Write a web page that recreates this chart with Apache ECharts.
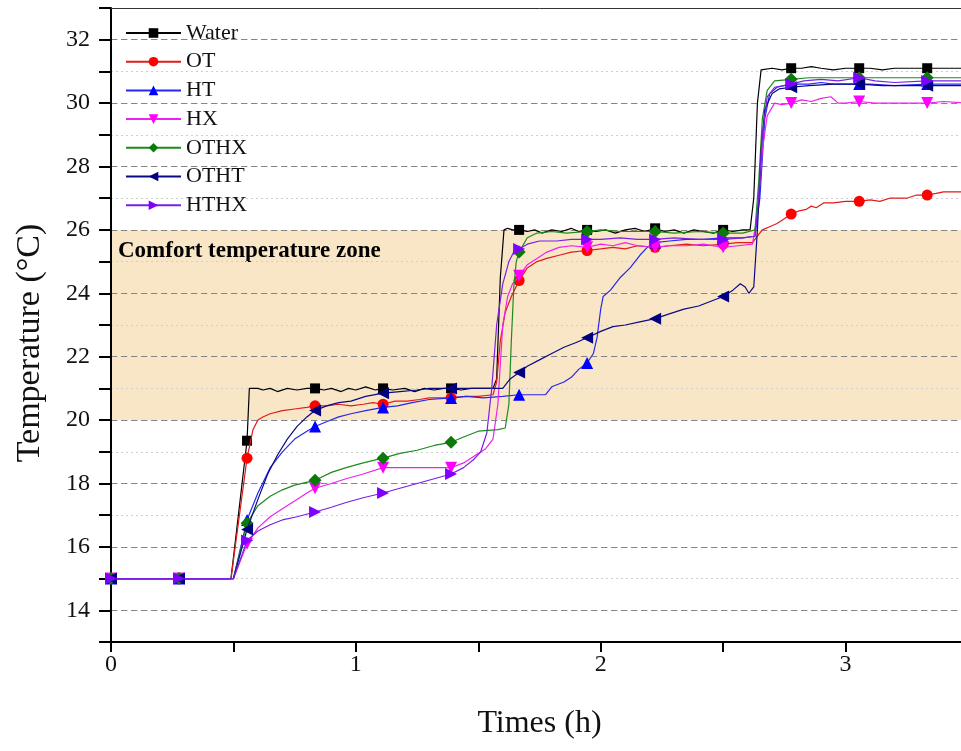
<!DOCTYPE html>
<html>
<head>
<meta charset="utf-8">
<script src="https://cdn.jsdelivr.net/npm/echarts@6/dist/echarts.min.js"></script>
<style>
  html, body { margin: 0; padding: 0; background: #fff; overflow: hidden; width: 961px; height: 751px; }
  /* the plot runs on past the right edge of the page, up to 3.5 h */
  #chart { width: 971px; height: 751px; }
</style>
</head>
<body>
<div id="chart"></div>
<script>
// Sample times (h) where each curve carries a marker (every 1000 s)
const markerHours = [0, 0.2778, 0.5556, 0.8333, 1.1111, 1.3889, 1.6667, 1.9444, 2.2222, 2.5, 2.7778, 3.0556, 3.3333];

// Comfort band (°C)
const comfortZone = [20, 26];

// Axis tick labels
const xTickLabels = [0, 1, 2, 3];
const yTickLabels = [14, 16, 18, 20, 22, 24, 26, 28, 30, 32];

// Temperature histories: [time (h), temperature (°C)]
const water = [[0,15],[0.2778,15],[0.49,15],[0.5556,19.35],[0.565,21.0],[0.6,21.0],[0.62,20.95],[0.65,21.0],[0.68,20.9],[0.72,21.0],[0.76,20.95],[0.8,21.0],[0.8333,21.0],[0.87,20.95],[0.9,21.0],[0.94,20.9],[0.97,21.0],[1.0,20.95],[1.04,21.05],[1.08,20.95],[1.1111,21.0],[1.15,20.95],[1.2,21.0],[1.24,20.9],[1.28,21.0],[1.32,20.95],[1.36,21.0],[1.3889,21.0],[1.43,20.95],[1.47,21.0],[1.51,21.0],[1.56,21.0],[1.575,21.3],[1.59,24.5],[1.605,26.0],[1.62,26.05],[1.64,26.0],[1.6667,26.0],[1.7,25.95],[1.73,26.0],[1.76,25.9],[1.8,26.0],[1.84,25.95],[1.88,26.05],[1.91,25.95],[1.9444,26.0],[1.98,25.95],[2.02,26.0],[2.06,25.9],[2.1,26.0],[2.14,26.05],[2.18,25.95],[2.2222,26.05],[2.26,25.95],[2.3,26.0],[2.34,25.9],[2.38,26.0],[2.42,25.95],[2.46,25.9],[2.5,26.0],[2.54,25.95],[2.58,26.0],[2.61,26.0],[2.625,27.0],[2.64,30.0],[2.655,31.05],[2.7,31.1],[2.74,31.05],[2.7778,31.1],[2.82,31.1],[2.86,31.15],[2.9,31.1],[2.95,31.05],[3.0,31.1],[3.0556,31.1],[3.1,31.1],[3.15,31.05],[3.2,31.1],[3.25,31.1],[3.3333,31.1],[3.4,31.1],[3.5,31.1]];

const ot = [[0,15],[0.2778,15],[0.49,15],[0.5556,18.8],[0.58,19.7],[0.6,20.0],[0.62,20.1],[0.65,20.2],[0.7,20.3],[0.75,20.35],[0.8,20.4],[0.8333,20.45],[0.88,20.45],[0.93,20.5],[0.98,20.45],[1.03,20.5],[1.07,20.55],[1.1111,20.5],[1.16,20.6],[1.21,20.6],[1.26,20.65],[1.3,20.7],[1.3889,20.7],[1.45,20.75],[1.5,20.75],[1.56,20.8],[1.575,21.2],[1.59,22.5],[1.61,23.4],[1.635,23.9],[1.6667,24.4],[1.7,24.8],[1.74,25.0],[1.78,25.1],[1.83,25.2],[1.88,25.3],[1.9444,25.35],[2.0,25.4],[2.05,25.45],[2.1,25.4],[2.15,25.5],[2.2222,25.45],[2.28,25.5],[2.35,25.55],[2.42,25.5],[2.5,25.55],[2.56,25.6],[2.62,25.6],[2.64,25.8],[2.66,26.0],[2.69,26.1],[2.72,26.2],[2.75,26.35],[2.7778,26.5],[2.81,26.6],[2.84,26.65],[2.86,26.75],[2.88,26.7],[2.91,26.85],[2.95,26.85],[3.0,26.9],[3.0556,26.9],[3.1,26.95],[3.14,26.9],[3.18,27.0],[3.25,27.0],[3.29,27.1],[3.3333,27.1],[3.37,27.15],[3.4,27.2],[3.5,27.2]];

const ht = [[0,15],[0.2778,15],[0.5,15],[0.5556,16.85],[0.6,17.7],[0.65,18.5],[0.7,19.0],[0.75,19.4],[0.8,19.65],[0.8333,19.8],[0.88,19.95],[0.93,20.1],[0.98,20.2],[1.04,20.3],[1.1111,20.4],[1.17,20.45],[1.23,20.55],[1.3,20.65],[1.3889,20.7],[1.45,20.75],[1.52,20.7],[1.6,20.75],[1.6667,20.8],[1.72,20.8],[1.775,20.8],[1.8,21.05],[1.85,21.2],[1.88,21.35],[1.91,21.6],[1.9444,21.8],[1.97,22.1],[1.985,22.6],[2.0,23.5],[2.01,23.9],[2.04,24.1],[2.08,24.5],[2.12,24.8],[2.16,25.2],[2.19,25.45],[2.2222,25.6],[2.28,25.65],[2.35,25.7],[2.42,25.7],[2.5,25.75],[2.58,25.75],[2.63,25.8],[2.65,27.0],[2.67,29.5],[2.69,30.3],[2.72,30.5],[2.7778,30.6],[2.85,30.6],[2.9,30.65],[2.95,30.6],[3.0556,30.6],[3.1,30.6],[3.2,30.55],[3.3333,30.6],[3.5,30.6]];

const hx = [[0,15],[0.2778,15],[0.5,15],[0.5556,16.1],[0.6,16.6],[0.65,16.95],[0.7,17.2],[0.75,17.45],[0.8,17.7],[0.8333,17.85],[0.9,18.0],[0.96,18.15],[1.03,18.3],[1.1111,18.5],[1.18,18.5],[1.25,18.5],[1.32,18.5],[1.3889,18.5],[1.44,18.65],[1.49,18.9],[1.53,19.1],[1.56,19.4],[1.58,20.5],[1.6,23.0],[1.62,23.9],[1.64,24.3],[1.6667,24.55],[1.7,24.9],[1.74,25.1],[1.78,25.3],[1.83,25.45],[1.88,25.5],[1.9444,25.45],[2.0,25.55],[2.05,25.5],[2.1,25.6],[2.15,25.5],[2.2222,25.45],[2.28,25.5],[2.35,25.5],[2.42,25.55],[2.5,25.45],[2.56,25.5],[2.62,25.55],[2.64,26.5],[2.66,28.5],[2.68,29.6],[2.71,30.0],[2.74,29.95],[2.7778,30.0],[2.82,30.1],[2.86,30.05],[2.9,30.15],[2.94,30.2],[2.97,30.0],[3.0,30.0],[3.0556,30.05],[3.12,30.0],[3.2,30.0],[3.3333,30.0],[3.4,30.05],[3.5,30.0]];

const othx = [[0,15],[0.2778,15],[0.5,15],[0.5556,16.75],[0.6,17.3],[0.65,17.6],[0.7,17.8],[0.75,17.95],[0.8333,18.1],[0.9,18.35],[0.96,18.5],[1.03,18.65],[1.1111,18.8],[1.18,18.95],[1.25,19.05],[1.32,19.2],[1.3889,19.3],[1.45,19.5],[1.5,19.65],[1.58,19.7],[1.61,19.75],[1.625,20.5],[1.635,22.5],[1.645,24.2],[1.655,25.0],[1.6667,25.3],[1.7,25.75],[1.74,25.9],[1.8,25.95],[1.86,25.9],[1.9444,25.95],[2.0,26.0],[2.08,25.95],[2.15,25.95],[2.2222,25.95],[2.3,25.9],[2.4,25.95],[2.5,25.9],[2.58,25.9],[2.63,26.0],[2.645,27.5],[2.66,29.5],[2.68,30.4],[2.71,30.7],[2.7778,30.75],[2.85,30.8],[2.95,30.8],[3.0556,30.8],[3.15,30.8],[3.25,30.8],[3.3333,30.8],[3.5,30.8]];

const otht = [[0,15],[0.2778,15],[0.5,15],[0.5556,16.55],[0.6,17.5],[0.64,18.3],[0.68,18.9],[0.72,19.4],[0.76,19.8],[0.8,20.1],[0.8333,20.3],[0.88,20.45],[0.93,20.55],[0.98,20.6],[1.04,20.75],[1.1111,20.85],[1.18,20.9],[1.25,20.95],[1.3,21.0],[1.3889,21.0],[1.45,21.0],[1.52,21.0],[1.6,21.0],[1.63,21.3],[1.6667,21.5],[1.7,21.7],[1.75,21.9],[1.8,22.1],[1.85,22.3],[1.9,22.45],[1.9444,22.6],[2.0,22.8],[2.05,22.95],[2.1,23.0],[2.16,23.1],[2.2222,23.2],[2.28,23.35],[2.34,23.5],[2.4,23.6],[2.45,23.75],[2.5,23.9],[2.54,24.1],[2.57,24.3],[2.59,24.2],[2.605,24.0],[2.625,24.2],[2.64,26.0],[2.655,28.5],[2.67,29.8],[2.7,30.3],[2.73,30.45],[2.7778,30.5],[2.85,30.55],[2.95,30.6],[3.0556,30.6],[3.15,30.55],[3.25,30.55],[3.3333,30.55],[3.5,30.55]];

const hthx = [[0,15],[0.2778,15],[0.5,15],[0.5556,16.2],[0.6,16.5],[0.65,16.7],[0.7,16.85],[0.76,16.95],[0.8333,17.1],[0.9,17.25],[0.96,17.4],[1.03,17.55],[1.1111,17.7],[1.18,17.85],[1.25,18.0],[1.32,18.15],[1.3889,18.3],[1.44,18.5],[1.48,18.75],[1.51,19.0],[1.535,19.6],[1.555,21.0],[1.575,23.0],[1.6,24.3],[1.625,25.0],[1.645,25.3],[1.6667,25.4],[1.7,25.55],[1.75,25.65],[1.82,25.65],[1.88,25.7],[1.9444,25.7],[2.0,25.7],[2.08,25.75],[2.15,25.7],[2.2222,25.7],[2.3,25.75],[2.4,25.7],[2.5,25.7],[2.58,25.75],[2.63,25.8],[2.645,27.0],[2.66,29.0],[2.68,30.2],[2.71,30.5],[2.7778,30.6],[2.83,30.7],[2.9,30.75],[2.97,30.7],[3.0556,30.8],[3.12,30.7],[3.2,30.65],[3.3333,30.7],[3.5,30.7]];

const FONT = '"Liberation Serif", "Times New Roman", serif';

// Only the sampled marker instants get a symbol; the rest of the trace is plain line.
function toData(points) {
  return points.map(([t, v]) =>
    markerHours.some(m => Math.abs(m - t) < 1e-3) ? [t, v] : { value: [t, v], symbol: 'none' }
  );
}

const seriesDefs = [
  { name: 'Water', data: water, line: '#000000', mark: '#000000', symbol: 'rect', size: 10, rotate: 0 },
  { name: 'OT',    data: ot,    line: '#e31a1a', mark: '#ff0000', symbol: 'circle', size: 11, rotate: 0 },
  { name: 'HT',    data: ht,    line: '#2626f0', mark: '#0000ff', symbol: 'triangle', size: 12, rotate: 0 },
  { name: 'HX',    data: hx,    line: '#ee22ee', mark: '#ff00ff', symbol: 'triangle', size: 12, rotate: 180 },
  { name: 'OTHX',  data: othx,  line: '#1d8a1d', mark: '#0b7a0b', symbol: 'diamond', size: 13, rotate: 0 },
  { name: 'OTHT',  data: otht,  line: '#0a0a84', mark: '#000080', symbol: 'triangle', size: 12, rotate: 90 },
  { name: 'HTHX',  data: hthx,  line: '#7a1fe6', mark: '#7f00ff', symbol: 'triangle', size: 12, rotate: -90 }
];

const series = seriesDefs.map((d, i) => {
  const s = {
    name: d.name,
    type: 'line',
    xAxisIndex: 0,
    yAxisIndex: 0,
    data: toData(d.data),
    symbol: d.symbol,
    symbolSize: d.size,
    symbolRotate: d.rotate,
    showSymbol: true,
    showAllSymbol: true,
    lineStyle: { color: d.line, width: 1.2 },
    itemStyle: { color: d.mark },
    emphasis: { disabled: true },
    animation: false,
    z: 3 + i
  };
  if (i === 0) {
    s.markArea = {
      silent: true,
      z: -1,
      itemStyle: { color: '#f9e6c7' },
      label: {
        show: true,
        position: 'insideTopLeft',
        offset: [2, 5],
        formatter: 'Comfort temperature zone',
        fontFamily: FONT,
        fontWeight: 'bold',
        fontSize: 23,
        color: '#000'
      },
      data: [[{ yAxis: comfortZone[0] }, { yAxis: comfortZone[1] }]]
    };
  }
  return s;
});

const chart = echarts.init(document.getElementById('chart'), null, { renderer: 'canvas' });

chart.setOption({
  animation: false,
  backgroundColor: '#ffffff',
  grid: { left: 111, right: 0, top: 8, bottom: 109, containLabel: false },
  legend: {
    data: seriesDefs.map(d => d.name),
    orient: 'vertical',
    left: 125,
    top: 22,
    padding: 0,
    itemWidth: 55,
    itemHeight: 12,
    itemGap: 6.7,
    selectedMode: false,
    textStyle: { fontFamily: FONT, fontSize: 22, color: '#111' }
  },
  xAxis: [
    {
      type: 'value',
      min: 0,
      max: 3.5,
      interval: 0.5,
      name: 'Times (h)',
      nameLocation: 'middle',
      nameGap: 66,
      nameTextStyle: { fontFamily: FONT, fontSize: 32, color: '#111' },
      axisLine: { onZero: false, lineStyle: { color: '#000', width: 2 } },
      axisTick: { show: true, inside: false, length: 10, lineStyle: { color: '#000', width: 2 } },
      axisLabel: {
        margin: 11,
        fontFamily: FONT,
        fontSize: 24,
        color: '#111',
        formatter: v => (xTickLabels.includes(v) ? String(v) : '')
      },
      splitLine: { show: false }
    },
    {
      type: 'value',
      position: 'top',
      min: 0,
      max: 3.5,
      axisLine: { show: true, onZero: false, lineStyle: { color: '#333', width: 1 } },
      axisTick: { show: false },
      axisLabel: { show: false },
      splitLine: { show: false }
    }
  ],
  yAxis: [
    {
      type: 'value',
      min: 13,
      max: 33,
      interval: 1,
      name: 'Temperature (°C)',
      nameLocation: 'middle',
      nameGap: 64,
      nameTextStyle: { fontFamily: FONT, fontSize: 34, color: '#111', padding: [0, 36, 0, 0] },
      axisLine: { show: true, onZero: false, lineStyle: { color: '#000', width: 2 } },
      axisTick: { show: true, inside: false, length: 12, lineStyle: { color: '#000', width: 2 } },
      axisLabel: {
        margin: 21,
        fontFamily: FONT,
        fontSize: 24,
        color: '#111',
        formatter: v => (yTickLabels.includes(v) ? String(v) : '')
      },
      // odd degrees: light dotted guides
      splitLine: { show: true, lineStyle: { color: '#cfcfcf', type: [2, 3], width: 1 } }
    },
    {
      type: 'value',
      min: 13,
      max: 33,
      interval: 1,
      axisLine: { show: false },
      axisTick: { show: false },
      axisLabel: { show: false },
      // even degrees: darker dashed guides (colour cycles per tick, odd ones transparent)
      splitLine: { show: true, lineStyle: { color: ['rgba(0,0,0,0)', '#858585'], type: [6, 4], width: 1.2 } }
    }
  ],
  series: series
});
</script>
</body>
</html>
